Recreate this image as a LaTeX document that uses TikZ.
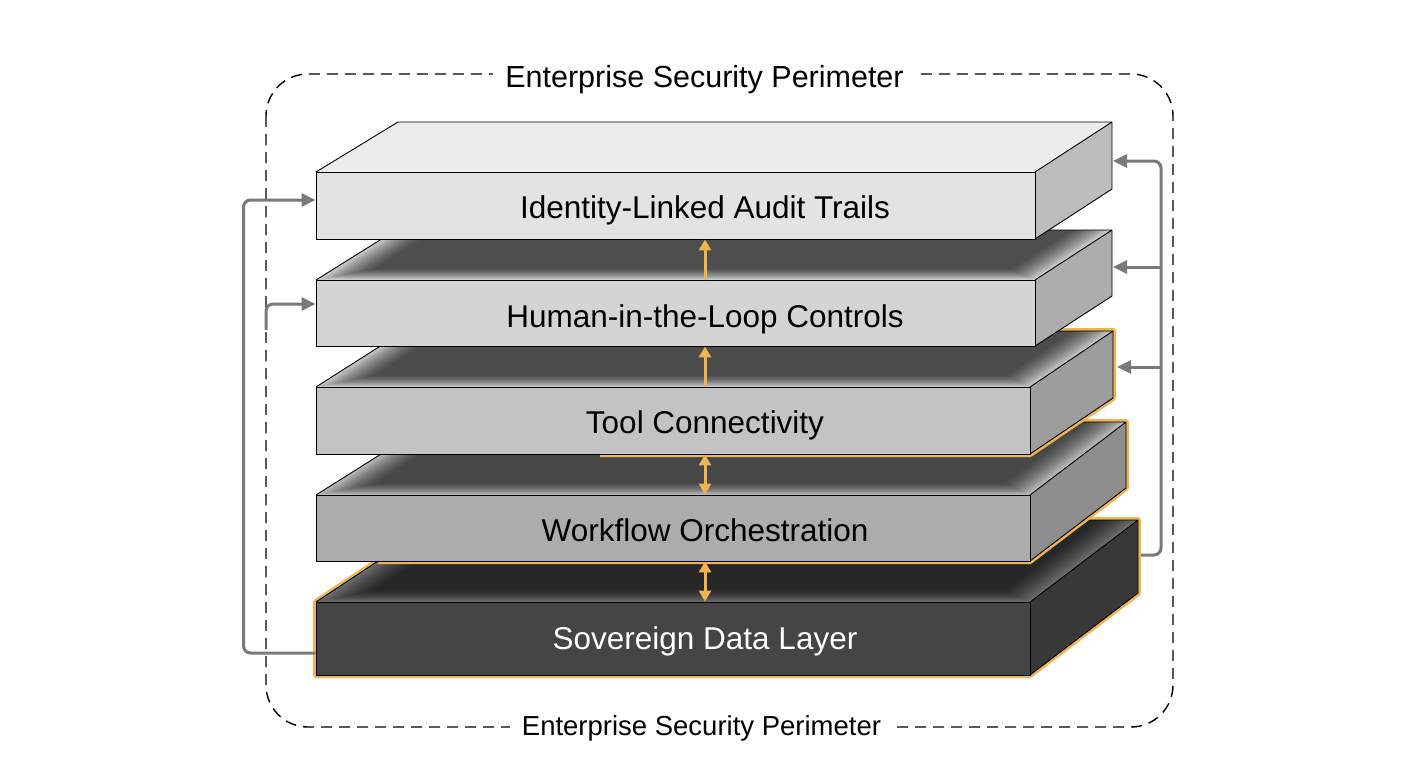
\documentclass[tikz,border=0pt]{standalone}
\usepackage{fontspec}
\setmainfont{Liberation Sans}
\usetikzlibrary{arrows.meta}
\definecolor{linkgray}{HTML}{7A7A7A}
\definecolor{accent}{HTML}{F0B452}
\definecolor{frontA}{HTML}{E3E3E3}
\definecolor{frontB}{HTML}{D4D4D4}
\definecolor{frontC}{HTML}{C3C3C3}
\definecolor{frontD}{HTML}{ACACAC}
\definecolor{frontE}{HTML}{454545}
\definecolor{sideA}{HTML}{BDBDBD}
\definecolor{sideB}{HTML}{ADADAD}
\definecolor{sideC}{HTML}{9D9D9D}
\definecolor{sideD}{HTML}{8E8E8E}
\definecolor{sideE}{HTML}{383838}
\definecolor{topA}{HTML}{ECECEC}
\definecolor{topB}{HTML}{CECECE}
\definecolor{topC}{HTML}{C8C8C8}
\definecolor{topD}{HTML}{BCBCBC}
\definecolor{topE}{HTML}{6E6E6E}
% soft shadow on a top face: front right x, front y, depth, left and right offsets
\newcommand\topshadow[5]{%
  \foreach \m in {1,...,16}{%
    \pgfmathsetmacro\insv{0.7*\m}%
    \pgfmathsetmacro\insh{2.5*\m}%
    \pgfmathsetmacro\inst{\insv/#3}%
    \fill[black,opacity=0.055] ({316+#4*\inst+\insh},{#2-\insv}) -- ({316+#4+\insh},{#2-#3})
      -- ({#1+#5-\insh},{#2-#3}) -- ({#1+#5*\inst-\insh},{#2-\insv}) -- cycle;
  }%
}
\begin{document}
\begin{tikzpicture}[x=1pt,y=-1pt,>={Triangle[length=14pt,width=13pt]},
  frontface/.style={draw=black,line width=0.9pt,inner sep=0pt,minimum width=714pt},
  outline/.style={draw=black,line width=0.9pt,line join=round},
  layertext/.style={anchor=base,font=\fontsize{31.5}{38}\selectfont},
  permlabel/.style={anchor=base,fill=white,inner xsep=12pt,inner ysep=2pt},
  rim/.style={draw=accent,line width=6pt,line join=round},
  link/.style={draw=linkgray,line width=3pt,rounded corners=7pt},
  lift/.style={draw=accent,line width=3pt,>={Triangle[length=11pt,width=12pt]}}]
\useasboundingbox (0,0) rectangle (1408,768);
\fill[white] (0,0) rectangle (1408,768);
% perimeter
\draw[black,line width=1.4pt,dash pattern=on 11pt off 7pt,rounded corners=42pt] (266,74) rectangle (1173,727);
\node[permlabel,font=\fontsize{30.5}{36}\selectfont] (permtop) at (704.5,87) {Enterprise Security Perimeter};
\node[permlabel,font=\fontsize{27.5}{33}\selectfont] (permbot) at (701.5,735) {Enterprise Security Perimeter};
% Sovereign Data Layer
\draw[rim] (316,675) -- (316,602) -- (440,520) -- (1138,520) -- (1138,593) -- (1030,675) -- cycle;
\fill[topE] (316,602) -- (440,520) -- (1138,520) -- (1030,602) -- cycle;
\topshadow{1030}{602}{82}{124}{108}
\fill[sideE] (1030,602) -- (1138,520) -- (1138,593) -- (1030,675) -- cycle;
\draw[outline] (316,602) -- (440,520) -- (1138,520) -- (1138,593) -- (1030,675) (1030,602) -- (1138,520);
\node[frontface,fill=frontE,minimum height=73pt] (sov) at (673,638.5) {};
\node[layertext,text=white] (sovtxt) at (705,649) {Sovereign Data Layer};
% Workflow Orchestration
\draw[rim] (378,561) -- (1030,561) -- (1126,488) -- (1126,422) -- (1000,422);
\fill[topD] (316,495) -- (432,422) -- (1126,422) -- (1030,495) -- cycle;
\topshadow{1030}{495}{73}{116}{96}
\fill[sideD] (1030,495) -- (1126,422) -- (1126,488) -- (1030,561) -- cycle;
\draw[outline] (316,495) -- (432,422) -- (1126,422) -- (1126,488) -- (1030,561) (1030,495) -- (1126,422);
\node[frontface,fill=frontD,minimum height=66pt] (flow) at (673,528) {};
\node[layertext] (flowtxt) at (705,541.5) {Workflow Orchestration};
% Tool Connectivity
\draw[rim] (600,454) -- (1030,454) -- (1113,398) -- (1113,331) -- (1000,331);
\fill[topC] (316,387) -- (404,331) -- (1113,331) -- (1030,387) -- cycle;
\topshadow{1030}{387}{56}{88}{83}
\fill[sideC] (1030,387) -- (1113,331) -- (1113,398) -- (1030,454) -- cycle;
\draw[outline] (316,387) -- (404,331) -- (1113,331) -- (1113,398) -- (1030,454) (1030,387) -- (1113,331);
\node[frontface,fill=frontC,minimum height=67pt] (tool) at (673,420.5) {};
\node[layertext] (tooltxt) at (705,433) {Tool Connectivity};
% Human-in-the-Loop Controls
\fill[topB] (316,280) -- (396,230) -- (1112,230) -- (1035,280) -- cycle;
\topshadow{1035}{280}{50}{80}{77}
\fill[sideB] (1035,280) -- (1112,230) -- (1112,296) -- (1035,346) -- cycle;
\draw[outline] (316,280) -- (396,230) -- (1112,230) -- (1112,296) -- (1035,346) (1035,280) -- (1112,230);
\node[frontface,fill=frontB,minimum width=719pt,minimum height=66pt] (human) at (675.5,313) {};
\node[layertext] (humantxt) at (705,327) {Human-in-the-Loop Controls};
% Identity-Linked Audit Trails
\fill[topA] (316,172) -- (398,122) -- (1112,122) -- (1035,172) -- cycle;
\fill[sideA] (1035,172) -- (1112,122) -- (1112,189) -- (1035,239) -- cycle;
\draw[outline] (316,172) -- (398,122) -- (1112,122) -- (1112,189) -- (1035,239) (1035,172) -- (1112,122);
\node[frontface,fill=frontA,minimum width=719pt,minimum height=67pt] (audit) at (675.5,205.5) {};
\node[layertext] (audittxt) at (705,218.5) {Identity-Linked Audit Trails};
% flows between layers
\draw[lift,->] (human.north -| humantxt) -- (audit.south -| humantxt);
\draw[lift,->] (tool.north -| tooltxt) -- (human.south -| tooltxt);
\draw[lift,<->] (flow.north -| flowtxt) -- (tool.south -| flowtxt);
\draw[lift,<->] (sov.north -| sovtxt) -- (flow.south -| sovtxt);
% feedback links
\coordinate (bus) at (1161,0);
\coordinate (auditR) at (1113,161);
\coordinate (humanR) at (1113,267);
\coordinate (toolR) at (1117,367);
\coordinate (sovR) at (1141,555);
\coordinate (gateL) at (266,330);
\draw[link,->] (sovR) -- (sovR -| bus) -- (auditR -| bus) -- (auditR);
\draw[link,->] (humanR -| bus) -- (humanR);
\draw[link,->] (toolR -| bus) -- (toolR);
\draw[link,->] ([yshift=-14.5pt]sov.west) -- ++(-72,0) |- ([yshift=5.5pt]audit.west);
\draw[link,->] (gateL) |- ([yshift=9pt]human.west);
\end{tikzpicture}
\end{document}
